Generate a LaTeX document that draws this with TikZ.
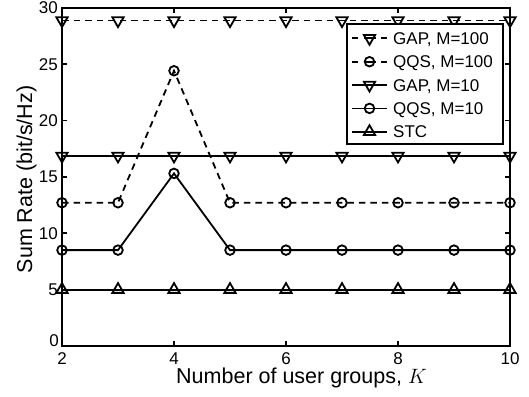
\documentclass[tikz,border=0pt]{standalone}
\usepackage{fontspec}
\setmainfont{Liberation Sans}
\usetikzlibrary{plotmarks}

\begin{document}
\begin{tikzpicture}[x=1pt,y=-1pt,
  axisline/.style={line width=2pt},
  tickline/.style={line width=1.5pt},
  curve/.style={line width=1.8pt},
  dashcurve/.style={curve, dash pattern=on 6.5pt off 5pt},
  legdash/.style={curve, dash pattern=on 6pt off 5.5pt on 12pt off 5.5pt on 6pt off 50pt},
  ticklab/.style={font=\fontsize{17}{17}\selectfont, inner sep=0pt},
  axlab/.style={font=\fontsize{21.5}{21.5}\selectfont, inner sep=0pt},
  downmark/.style={mark=triangle, mark size=6.5pt, mark options={rotate=180, solid}},
  upmark/.style={mark=triangle, mark size=6.5pt, mark options={solid}},
  circmark/.style={mark=o, mark size=4.8pt, mark options={solid}}]

\useasboundingbox (0,0) rectangle (529,396);
\fill[white] (0,0) rectangle (529,396);

% data area: K on the x axis, sum rate on the y axis
\begin{scope}[shift={(-50,346)}, x=56pt, y=11.28pt]
  % ticks on all four sides
  \foreach \k in {2,4,...,10} {
    \draw[tickline] (\k,0) -- ++(0,5pt);
    \draw[tickline] (\k,30) -- ++(0,-5pt);
    \node[ticklab, anchor=base] (xt\k) at ([yshift=-18.5pt]\k,0) {\k};
  }
  \foreach \v in {5,10,...,30} {
    \draw[tickline] (2,\v) -- ++(5pt,0);
    \draw[tickline] (10,\v) -- ++(-5pt,0);
    \node[ticklab, anchor=base east] (yt\v) at ([xshift=-4pt,yshift=-6pt]2,\v) {\v};
  }
  \node[ticklab, anchor=base east] (yt0) at ([xshift=-3pt]2,0) {0};

  % curves
  \draw[curve, upmark] plot coordinates {(2,5) (3,5) (4,5) (5,5) (6,5) (7,5) (8,5) (9,5) (10,5)};
  \draw[curve, circmark] plot coordinates {(2,8.5) (3,8.5) (4,15.3) (5,8.5) (6,8.5) (7,8.5) (8,8.5) (9,8.5) (10,8.5)};
  \draw[curve, downmark] plot coordinates {(2,16.85) (3,16.85) (4,16.85) (5,16.85) (6,16.85) (7,16.85) (8,16.85) (9,16.85) (10,16.85)};
  \draw[dashcurve, circmark] plot coordinates {(2,12.7) (3,12.7) (4,24.4) (5,12.7) (6,12.7) (7,12.7) (8,12.7) (9,12.7) (10,12.7)};
  \draw[dashcurve, downmark] plot coordinates {(2,28.85) (3,28.85) (4,28.85) (5,28.85) (6,28.85) (7,28.85) (8,28.85) (9,28.85) (10,28.85)};

  % axes box
  \draw[axisline] (2,0) rectangle (10,30);
\end{scope}

% axis labels
\node[axlab, anchor=base, text height=15.5pt] (xlab) at (301.5,383) {Number of user groups, $K$};
\node[axlab, anchor=base, rotate=90] (ylab) at (32,179.5) {Sum Rate (bit/s/Hz)};

% legend
\draw[line width=1.6pt, fill=white] (347,24) rectangle (503,144);
\draw[legdash] (352,38.3) -- (387,38.3);
\draw[curve, downmark] plot coordinates {(369.5,38.3)};
\node[ticklab, anchor=base west] (lg1) at (393,44.4) {GAP, M=100};
\draw[legdash] (352,61.7) -- (387,61.7);
\draw[curve, circmark] plot coordinates {(369.5,61.7)};
\node[ticklab, anchor=base west] (lg2) at (393,67.8) {QQS, M=100};
\draw[curve] (352,85) -- (387,85);
\draw[curve, downmark] plot coordinates {(369.5,85)};
\node[ticklab, anchor=base west] (lg3) at (393,91.1) {GAP, M=10};
\draw[curve] (352,108.4) -- (387,108.4);
\draw[curve, circmark] plot coordinates {(369.5,108.4)};
\node[ticklab, anchor=base west] (lg4) at (393,114.5) {QQS, M=10};
\draw[curve] (352,131.7) -- (387,131.7);
\draw[curve, upmark] plot coordinates {(369.5,131.7)};
\node[ticklab, anchor=base west] (lg5) at (393,137.8) {STC};
\end{tikzpicture}
\end{document}
